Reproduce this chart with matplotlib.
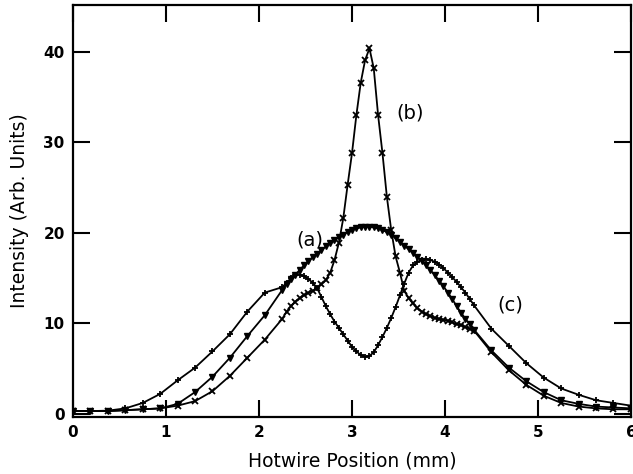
import matplotlib
matplotlib.use('Agg')
import matplotlib.pyplot as plt

plt.rcParams['font.family'] = 'DejaVu Sans'

# hotwire positions (mm): coarse wings, fine central scan
x_pos = [0.0, 0.1875, 0.375, 0.5625, 0.75, 0.9375, 1.125, 1.3125, 1.5, 1.6875, 1.875, 2.0625,
         2.25, 2.297, 2.344, 2.391, 2.438, 2.484, 2.531, 2.578, 2.625, 2.672, 2.719, 2.766,
         2.812, 2.859, 2.906, 2.953, 3.0, 3.047, 3.094, 3.141, 3.188, 3.234, 3.281, 3.328,
         3.375, 3.422, 3.469, 3.516, 3.562, 3.609, 3.656, 3.703, 3.75, 3.797, 3.844, 3.891,
         3.938, 3.984, 4.031, 4.078, 4.125, 4.172, 4.219, 4.266, 4.312,
         4.5, 4.688, 4.875, 5.062, 5.25, 5.438, 5.625, 5.812, 6.0]

# (a) gaussian-like profile
int_a = [0.3, 0.3, 0.3, 0.4, 0.5, 0.6, 1.1, 2.4, 4.1, 6.2, 8.6, 10.9,
         13.7, 14.3, 14.9, 15.4, 15.9, 16.4, 16.9, 17.3, 17.7, 18.1, 18.5, 18.9,
         19.2, 19.5, 19.8, 20.1, 20.3, 20.5, 20.6, 20.7, 20.7, 20.6, 20.5, 20.3,
         20.1, 19.8, 19.4, 19.0, 18.6, 18.2, 17.8, 17.3, 16.9, 16.4, 15.9, 15.3,
         14.7, 14.1, 13.4, 12.7, 11.9, 11.2, 10.5, 9.9, 9.3,
         7.0, 5.1, 3.6, 2.4, 1.5, 1.1, 0.8, 0.7, 0.6]

# (b) sharply peaked profile
int_b = [0.3, 0.3, 0.3, 0.4, 0.5, 0.6, 0.9, 1.4, 2.5, 4.2, 6.2, 8.2,
         10.5, 11.3, 11.9, 12.4, 12.8, 13.1, 13.4, 13.6, 13.9, 14.3, 14.8, 15.6,
         17.0, 18.9, 21.6, 25.3, 28.8, 33.0, 36.6, 39.1, 40.4, 38.2, 33.0, 28.8,
         24.0, 20.3, 17.4, 15.6, 13.6, 12.8, 12.2, 11.7, 11.3, 11.0, 10.8, 10.6,
         10.5, 10.4, 10.3, 10.1, 9.9, 9.8, 9.6, 9.4, 9.2,
         6.8, 4.8, 3.2, 2.0, 1.2, 0.8, 0.6, 0.5, 0.5]

# (c) hollow profile
int_c = [0.3, 0.3, 0.35, 0.6, 1.2, 2.2, 3.7, 5.1, 6.9, 8.8, 11.3, 13.4,
         14.0, 14.5, 15.0, 15.4, 15.4, 15.2, 14.9, 14.5, 13.9, 12.9, 11.9, 11.0,
         10.2, 9.5, 8.8, 8.1, 7.4, 6.9, 6.5, 6.3, 6.4, 6.8, 7.6, 8.5,
         9.5, 10.6, 11.8, 13.1, 14.4, 15.6, 16.4, 16.8, 17.0, 17.1, 17.0, 16.8,
         16.5, 16.1, 15.6, 15.1, 14.6, 14.0, 13.4, 12.7, 12.0,
         9.4, 7.5, 5.6, 4.0, 2.8, 2.1, 1.5, 1.2, 0.9]

x_ticks = [0, 1, 2, 3, 4, 5, 6]
y_ticks = [0, 10, 20, 30, 40]

fig = plt.figure(figsize=(6.33, 4.74), dpi=100)
ax = fig.add_axes([0.1153, 0.1203, 0.8815, 0.8692])

ax.plot(x_pos, int_a, '-', color='black', lw=1.3, marker='v', ms=4, mfc='black', mec='black')
ax.plot(x_pos, int_b, '-', color='black', lw=1.3, marker='x', ms=4.5, mew=1.3)
ax.plot(x_pos, int_c, '-', color='black', lw=1.3, marker='+', ms=5, mew=1.3)

ax.text(2.55, 19.2, '(a)', fontsize=14, ha='center', va='center')
ax.text(3.62, 33.3, '(b)', fontsize=14, ha='center', va='center')
ax.text(4.70, 12.0, '(c)', fontsize=14, ha='center', va='center')

ax.set_xlim(0, 6)
ax.set_ylim(-0.35, 45.2)
ax.set_xticks(x_ticks)
ax.set_yticks(y_ticks)
ax.tick_params(direction='in', length=12, width=1.5, top=True, right=True,
               labelsize=11, pad=6)
for lab in ax.get_xticklabels() + ax.get_yticklabels():
    lab.set_fontweight('bold')
for sp in ax.spines.values():
    sp.set_linewidth(1.6)

ax.set_xlabel('Hotwire Position (mm)', fontsize=13.5, labelpad=8)
ax.set_ylabel('Intensity (Arb. Units)', fontsize=13.5, labelpad=10)

fig.savefig('out.png', dpi=100, facecolor='white')
